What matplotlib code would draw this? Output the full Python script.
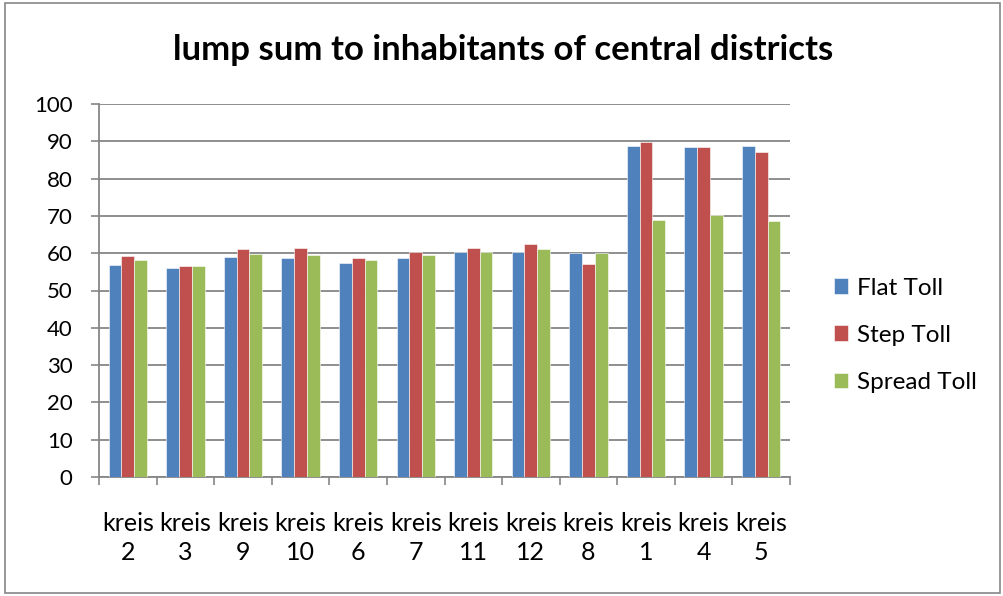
import numpy as np
import matplotlib.pyplot as plt
from matplotlib.patches import Rectangle

plt.rcParams['font.family'] = ['Lato', 'DejaVu Sans']

districts = ['kreis\n2', 'kreis\n3', 'kreis\n9', 'kreis\n10', 'kreis\n6', 'kreis\n7',
             'kreis\n11', 'kreis\n12', 'kreis\n8', 'kreis\n1', 'kreis\n4', 'kreis\n5']
flat_toll = [56.9, 56.0, 59.1, 58.7, 57.4, 58.6, 60.2, 60.3, 60.0, 88.8, 88.4, 88.7]
step_toll = [59.2, 56.5, 61.2, 61.4, 58.8, 60.4, 61.5, 62.5, 57.0, 89.8, 88.4, 87.1]
spread_toll = [58.2, 56.6, 59.8, 59.5, 58.3, 59.6, 60.3, 61.1, 60.0, 69.0, 70.2, 68.6]

series = [('Flat Toll', flat_toll, '#4F81BD'),
          ('Step Toll', step_toll, '#C0504D'),
          ('Spread Toll', spread_toll, '#9BBB59')]

fig = plt.figure(figsize=(10.04, 5.96), dpi=100)
ax = fig.add_axes([99/1004, 1 - 477/596, (790-99)/1004, (477-104)/596])

x = np.arange(len(districts))
w = 1 / 4.5
for k, (name, vals, col) in enumerate(series):
    ax.bar(x + (k - 1) * w, vals, w, color=col, label=name,
           edgecolor='white', linewidth=0.4, zorder=3)

ax.set_ylim(0, 100)
ax.set_yticks(range(0, 101, 10))
ax.set_xlim(-0.5, len(districts) - 0.5)
ax.set_xticks(np.arange(-0.5, len(districts)))
ax.set_xticklabels([])
ax.set_xticks(x, minor=True)
ax.set_xticklabels(districts, minor=True, fontsize=18, linespacing=1.33)
ax.tick_params(axis='x', which='minor', length=0, pad=25)
ax.tick_params(axis='x', which='major', length=6, color='#868686', width=1.2)
ax.tick_params(axis='y', length=6, color='#868686', width=1.2, labelsize=16, pad=13)

ax.grid(axis='y', color='#868686', linewidth=1.3, zorder=0)
for side in ['top', 'right']:
    ax.spines[side].set_visible(False)
for side in ['left', 'bottom']:
    ax.spines[side].set_color('#868686')
    ax.spines[side].set_linewidth(1.3)

fig.text(503/1004, 1 - 50/596, 'lump sum to inhabitants of central districts',
         ha='center', va='center', fontsize=25, fontweight='bold')

ax.legend(loc='center left', bbox_to_anchor=((812 - 99)/691, 0.38), frameon=False,
          fontsize=17.5, handlelength=0.6, handleheight=0.6, labelspacing=1.08,
          handletextpad=0.35)

fig.patches.append(Rectangle((5/1004, 3/596), 995/1004, 590/596, transform=fig.transFigure,
                             fill=False, edgecolor='#868686', linewidth=1.2))

fig.savefig('out.png', dpi=100)
